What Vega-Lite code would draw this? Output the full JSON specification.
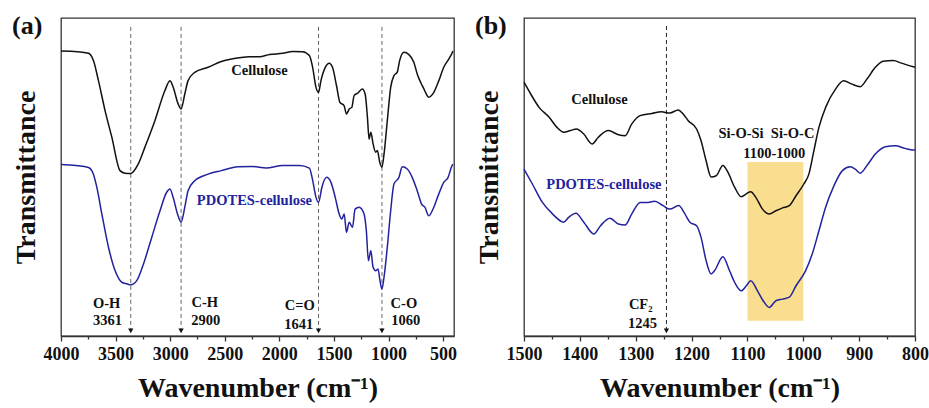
{
  "$schema": "https://vega.github.io/schema/vega-lite/v6.json",
  "background": "white",
  "padding": {"left": 11, "top": 12, "right": 0, "bottom": 0},
  "spacing": 16,
  "config": {
    "font": "Liberation Serif",
    "view": {"stroke": "#333333", "strokeWidth": 1.3},
    "axis": {
      "labelFont": "Liberation Serif", "labelFontWeight": "bold", "labelFontSize": 18, "labelColor": "#111111",
      "titleFont": "Liberation Serif", "titleFontWeight": "bold", "titleFontSize": 28, "titleColor": "#111111",
      "grid": false, "domainColor": "#333333", "domainWidth": 1.3, "tickColor": "#333333", "tickWidth": 1.3
    },
    "title": {"font": "Liberation Serif", "fontWeight": "bold", "fontSize": 26, "color": "#111111", "anchor": "start", "frame": "bounds", "offset": -21},
    "text": {"font": "Liberation Serif", "fontWeight": "bold", "fontSize": 14.5}
  },
  "datasets": {
    "specA": [
      {"wn": 4000, "t": 89.6, "s": "Cellulose"}, {"wn": 3850, "t": 89.4, "s": "Cellulose"}, {"wn": 3748, "t": 88.9, "s": "Cellulose"},
      {"wn": 3703, "t": 86.6, "s": "Cellulose"}, {"wn": 3657, "t": 80.3, "s": "Cellulose"}, {"wn": 3596, "t": 70.8, "s": "Cellulose"},
      {"wn": 3535, "t": 62.6, "s": "Cellulose"}, {"wn": 3459, "t": 52.0, "s": "Cellulose"}, {"wn": 3414, "t": 51.2, "s": "Cellulose"},
      {"wn": 3361, "t": 51.1, "s": "Cellulose"}, {"wn": 3292, "t": 54.1, "s": "Cellulose"}, {"wn": 3231, "t": 59.4, "s": "Cellulose"},
      {"wn": 3140, "t": 67.7, "s": "Cellulose"}, {"wn": 3049, "t": 77.1, "s": "Cellulose"}, {"wn": 3002, "t": 80.3, "s": "Cellulose"},
      {"wn": 2973, "t": 78.3, "s": "Cellulose"}, {"wn": 2927, "t": 73.0, "s": "Cellulose"}, {"wn": 2900, "t": 71.4, "s": "Cellulose"},
      {"wn": 2866, "t": 76.1, "s": "Cellulose"}, {"wn": 2836, "t": 80.3, "s": "Cellulose"}, {"wn": 2775, "t": 82.9, "s": "Cellulose"},
      {"wn": 2653, "t": 84.5, "s": "Cellulose"}, {"wn": 2531, "t": 86.3, "s": "Cellulose"}, {"wn": 2349, "t": 87.6, "s": "Cellulose"},
      {"wn": 2273, "t": 87.8, "s": "Cellulose"}, {"wn": 2182, "t": 87.8, "s": "Cellulose"}, {"wn": 2090, "t": 88.5, "s": "Cellulose"},
      {"wn": 1969, "t": 88.9, "s": "Cellulose"}, {"wn": 1878, "t": 89.5, "s": "Cellulose"}, {"wn": 1786, "t": 89.4, "s": "Cellulose"},
      {"wn": 1725, "t": 88.2, "s": "Cellulose"}, {"wn": 1695, "t": 84.5, "s": "Cellulose"}, {"wn": 1664, "t": 78.2, "s": "Cellulose"},
      {"wn": 1641, "t": 76.6, "s": "Cellulose"}, {"wn": 1619, "t": 80.3, "s": "Cellulose"}, {"wn": 1579, "t": 84.5, "s": "Cellulose"},
      {"wn": 1543, "t": 85.8, "s": "Cellulose"}, {"wn": 1513, "t": 84.5, "s": "Cellulose"}, {"wn": 1476, "t": 78.7, "s": "Cellulose"},
      {"wn": 1445, "t": 73.5, "s": "Cellulose"}, {"wn": 1406, "t": 72.4, "s": "Cellulose"}, {"wn": 1385, "t": 69.8, "s": "Cellulose"},
      {"wn": 1360, "t": 71.4, "s": "Cellulose"}, {"wn": 1336, "t": 71.9, "s": "Cellulose"}, {"wn": 1315, "t": 75.6, "s": "Cellulose"},
      {"wn": 1285, "t": 76.3, "s": "Cellulose"}, {"wn": 1239, "t": 77.7, "s": "Cellulose"}, {"wn": 1214, "t": 76.1, "s": "Cellulose"},
      {"wn": 1193, "t": 68.8, "s": "Cellulose"}, {"wn": 1178, "t": 61.9, "s": "Cellulose"}, {"wn": 1162, "t": 64.1, "s": "Cellulose"},
      {"wn": 1141, "t": 60.4, "s": "Cellulose"}, {"wn": 1117, "t": 57.8, "s": "Cellulose"}, {"wn": 1102, "t": 58.3, "s": "Cellulose"},
      {"wn": 1080, "t": 54.6, "s": "Cellulose"}, {"wn": 1060, "t": 53.1, "s": "Cellulose"}, {"wn": 1041, "t": 57.2, "s": "Cellulose"},
      {"wn": 1011, "t": 67.7, "s": "Cellulose"}, {"wn": 980, "t": 78.2, "s": "Cellulose"}, {"wn": 950, "t": 81.9, "s": "Cellulose"},
      {"wn": 920, "t": 83.0, "s": "Cellulose"}, {"wn": 898, "t": 86.6, "s": "Cellulose"}, {"wn": 859, "t": 89.2, "s": "Cellulose"},
      {"wn": 813, "t": 88.5, "s": "Cellulose"}, {"wn": 768, "t": 86.1, "s": "Cellulose"}, {"wn": 737, "t": 82.4, "s": "Cellulose"},
      {"wn": 706, "t": 79.8, "s": "Cellulose"}, {"wn": 676, "t": 77.7, "s": "Cellulose"}, {"wn": 661, "t": 76.6, "s": "Cellulose"},
      {"wn": 631, "t": 75.1, "s": "Cellulose"}, {"wn": 585, "t": 76.6, "s": "Cellulose"}, {"wn": 539, "t": 80.3, "s": "Cellulose"},
      {"wn": 494, "t": 84.5, "s": "Cellulose"}, {"wn": 448, "t": 87.1, "s": "Cellulose"}, {"wn": 418, "t": 88.9, "s": "Cellulose"},
      {"wn": 410, "t": 89.6, "s": "Cellulose"},
      {"wn": 4000, "t": 53.9, "s": "PDOTES-cellulose"}, {"wn": 3865, "t": 53.6, "s": "PDOTES-cellulose"}, {"wn": 3748, "t": 53.0, "s": "PDOTES-cellulose"},
      {"wn": 3703, "t": 50.9, "s": "PDOTES-cellulose"}, {"wn": 3672, "t": 46.8, "s": "PDOTES-cellulose"}, {"wn": 3626, "t": 38.4, "s": "PDOTES-cellulose"},
      {"wn": 3565, "t": 27.9, "s": "PDOTES-cellulose"}, {"wn": 3504, "t": 20.5, "s": "PDOTES-cellulose"}, {"wn": 3443, "t": 16.9, "s": "PDOTES-cellulose"},
      {"wn": 3397, "t": 16.4, "s": "PDOTES-cellulose"}, {"wn": 3361, "t": 16.1, "s": "PDOTES-cellulose"}, {"wn": 3306, "t": 17.4, "s": "PDOTES-cellulose"},
      {"wn": 3245, "t": 22.6, "s": "PDOTES-cellulose"}, {"wn": 3169, "t": 31.0, "s": "PDOTES-cellulose"}, {"wn": 3093, "t": 39.4, "s": "PDOTES-cellulose"},
      {"wn": 3032, "t": 45.2, "s": "PDOTES-cellulose"}, {"wn": 3002, "t": 46.2, "s": "PDOTES-cellulose"}, {"wn": 2973, "t": 43.6, "s": "PDOTES-cellulose"},
      {"wn": 2933, "t": 38.4, "s": "PDOTES-cellulose"}, {"wn": 2900, "t": 35.8, "s": "PDOTES-cellulose"}, {"wn": 2866, "t": 40.5, "s": "PDOTES-cellulose"},
      {"wn": 2836, "t": 45.7, "s": "PDOTES-cellulose"}, {"wn": 2775, "t": 48.8, "s": "PDOTES-cellulose"}, {"wn": 2653, "t": 50.9, "s": "PDOTES-cellulose"},
      {"wn": 2531, "t": 52.0, "s": "PDOTES-cellulose"}, {"wn": 2379, "t": 53.2, "s": "PDOTES-cellulose"}, {"wn": 2250, "t": 53.3, "s": "PDOTES-cellulose"},
      {"wn": 2120, "t": 52.8, "s": "PDOTES-cellulose"}, {"wn": 1969, "t": 53.6, "s": "PDOTES-cellulose"}, {"wn": 1817, "t": 53.6, "s": "PDOTES-cellulose"},
      {"wn": 1725, "t": 52.8, "s": "PDOTES-cellulose"}, {"wn": 1695, "t": 49.0, "s": "PDOTES-cellulose"}, {"wn": 1664, "t": 43.6, "s": "PDOTES-cellulose"},
      {"wn": 1641, "t": 42.0, "s": "PDOTES-cellulose"}, {"wn": 1610, "t": 46.8, "s": "PDOTES-cellulose"}, {"wn": 1567, "t": 49.9, "s": "PDOTES-cellulose"},
      {"wn": 1527, "t": 48.3, "s": "PDOTES-cellulose"}, {"wn": 1488, "t": 43.6, "s": "PDOTES-cellulose"}, {"wn": 1452, "t": 38.4, "s": "PDOTES-cellulose"},
      {"wn": 1427, "t": 36.8, "s": "PDOTES-cellulose"}, {"wn": 1406, "t": 38.4, "s": "PDOTES-cellulose"}, {"wn": 1385, "t": 32.6, "s": "PDOTES-cellulose"},
      {"wn": 1360, "t": 35.8, "s": "PDOTES-cellulose"}, {"wn": 1330, "t": 34.2, "s": "PDOTES-cellulose"}, {"wn": 1306, "t": 39.9, "s": "PDOTES-cellulose"},
      {"wn": 1269, "t": 40.5, "s": "PDOTES-cellulose"}, {"wn": 1224, "t": 38.4, "s": "PDOTES-cellulose"}, {"wn": 1203, "t": 33.1, "s": "PDOTES-cellulose"},
      {"wn": 1184, "t": 23.7, "s": "PDOTES-cellulose"}, {"wn": 1162, "t": 26.8, "s": "PDOTES-cellulose"}, {"wn": 1141, "t": 21.6, "s": "PDOTES-cellulose"},
      {"wn": 1117, "t": 20.5, "s": "PDOTES-cellulose"}, {"wn": 1096, "t": 21.1, "s": "PDOTES-cellulose"}, {"wn": 1078, "t": 17.4, "s": "PDOTES-cellulose"},
      {"wn": 1060, "t": 14.8, "s": "PDOTES-cellulose"}, {"wn": 1041, "t": 18.5, "s": "PDOTES-cellulose"}, {"wn": 1011, "t": 27.9, "s": "PDOTES-cellulose"},
      {"wn": 980, "t": 39.4, "s": "PDOTES-cellulose"}, {"wn": 950, "t": 47.8, "s": "PDOTES-cellulose"}, {"wn": 904, "t": 49.9, "s": "PDOTES-cellulose"},
      {"wn": 874, "t": 53.2, "s": "PDOTES-cellulose"}, {"wn": 828, "t": 52.5, "s": "PDOTES-cellulose"}, {"wn": 783, "t": 49.9, "s": "PDOTES-cellulose"},
      {"wn": 737, "t": 45.7, "s": "PDOTES-cellulose"}, {"wn": 697, "t": 41.5, "s": "PDOTES-cellulose"}, {"wn": 667, "t": 40.5, "s": "PDOTES-cellulose"},
      {"wn": 631, "t": 37.8, "s": "PDOTES-cellulose"}, {"wn": 585, "t": 40.5, "s": "PDOTES-cellulose"}, {"wn": 539, "t": 44.7, "s": "PDOTES-cellulose"},
      {"wn": 494, "t": 48.3, "s": "PDOTES-cellulose"}, {"wn": 454, "t": 49.9, "s": "PDOTES-cellulose"}, {"wn": 418, "t": 53.6, "s": "PDOTES-cellulose"},
      {"wn": 410, "t": 54.0, "s": "PDOTES-cellulose"}
    ],
    "specB": [
      {"wn": 1500, "t": 79.8, "s": "Cellulose"}, {"wn": 1488, "t": 76.1, "s": "Cellulose"}, {"wn": 1473, "t": 71.9, "s": "Cellulose"},
      {"wn": 1455, "t": 68.8, "s": "Cellulose"}, {"wn": 1441, "t": 65.6, "s": "Cellulose"}, {"wn": 1429, "t": 64.1, "s": "Cellulose"},
      {"wn": 1417, "t": 64.6, "s": "Cellulose"}, {"wn": 1406, "t": 65.1, "s": "Cellulose"}, {"wn": 1393, "t": 63.5, "s": "Cellulose"},
      {"wn": 1378, "t": 60.4, "s": "Cellulose"}, {"wn": 1367, "t": 62.5, "s": "Cellulose"}, {"wn": 1349, "t": 64.6, "s": "Cellulose"},
      {"wn": 1331, "t": 63.3, "s": "Cellulose"}, {"wn": 1319, "t": 63.0, "s": "Cellulose"}, {"wn": 1307, "t": 66.7, "s": "Cellulose"},
      {"wn": 1292, "t": 69.3, "s": "Cellulose"}, {"wn": 1271, "t": 70.0, "s": "Cellulose"}, {"wn": 1254, "t": 70.5, "s": "Cellulose"},
      {"wn": 1239, "t": 70.1, "s": "Cellulose"}, {"wn": 1224, "t": 71.1, "s": "Cellulose"}, {"wn": 1215, "t": 69.8, "s": "Cellulose"},
      {"wn": 1206, "t": 67.7, "s": "Cellulose"}, {"wn": 1191, "t": 65.1, "s": "Cellulose"}, {"wn": 1183, "t": 61.4, "s": "Cellulose"},
      {"wn": 1174, "t": 55.1, "s": "Cellulose"}, {"wn": 1165, "t": 50.0, "s": "Cellulose"}, {"wn": 1156, "t": 50.4, "s": "Cellulose"},
      {"wn": 1144, "t": 53.6, "s": "Cellulose"}, {"wn": 1135, "t": 51.5, "s": "Cellulose"}, {"wn": 1123, "t": 46.8, "s": "Cellulose"},
      {"wn": 1111, "t": 43.8, "s": "Cellulose"}, {"wn": 1102, "t": 44.7, "s": "Cellulose"}, {"wn": 1094, "t": 45.4, "s": "Cellulose"},
      {"wn": 1085, "t": 43.6, "s": "Cellulose"}, {"wn": 1073, "t": 39.9, "s": "Cellulose"}, {"wn": 1061, "t": 38.4, "s": "Cellulose"},
      {"wn": 1049, "t": 39.4, "s": "Cellulose"}, {"wn": 1037, "t": 40.3, "s": "Cellulose"}, {"wn": 1025, "t": 41.0, "s": "Cellulose"},
      {"wn": 1013, "t": 44.1, "s": "Cellulose"}, {"wn": 999, "t": 47.8, "s": "Cellulose"}, {"wn": 990, "t": 50.9, "s": "Cellulose"},
      {"wn": 981, "t": 58.3, "s": "Cellulose"}, {"wn": 972, "t": 65.6, "s": "Cellulose"}, {"wn": 960, "t": 71.9, "s": "Cellulose"},
      {"wn": 942, "t": 77.7, "s": "Cellulose"}, {"wn": 928, "t": 80.3, "s": "Cellulose"}, {"wn": 913, "t": 79.2, "s": "Cellulose"},
      {"wn": 898, "t": 78.4, "s": "Cellulose"}, {"wn": 886, "t": 80.8, "s": "Cellulose"}, {"wn": 871, "t": 84.5, "s": "Cellulose"},
      {"wn": 857, "t": 86.4, "s": "Cellulose"}, {"wn": 839, "t": 86.6, "s": "Cellulose"}, {"wn": 824, "t": 85.8, "s": "Cellulose"},
      {"wn": 803, "t": 84.7, "s": "Cellulose"}, {"wn": 800, "t": 84.6, "s": "Cellulose"},
      {"wn": 1500, "t": 52.5, "s": "PDOTES-cellulose"}, {"wn": 1485, "t": 47.8, "s": "PDOTES-cellulose"}, {"wn": 1467, "t": 42.0, "s": "PDOTES-cellulose"},
      {"wn": 1449, "t": 38.4, "s": "PDOTES-cellulose"}, {"wn": 1429, "t": 35.8, "s": "PDOTES-cellulose"}, {"wn": 1420, "t": 37.3, "s": "PDOTES-cellulose"},
      {"wn": 1407, "t": 38.6, "s": "PDOTES-cellulose"}, {"wn": 1393, "t": 35.8, "s": "PDOTES-cellulose"}, {"wn": 1375, "t": 32.1, "s": "PDOTES-cellulose"},
      {"wn": 1363, "t": 34.7, "s": "PDOTES-cellulose"}, {"wn": 1346, "t": 37.0, "s": "PDOTES-cellulose"}, {"wn": 1331, "t": 35.2, "s": "PDOTES-cellulose"},
      {"wn": 1319, "t": 34.9, "s": "PDOTES-cellulose"}, {"wn": 1307, "t": 38.4, "s": "PDOTES-cellulose"}, {"wn": 1292, "t": 42.0, "s": "PDOTES-cellulose"},
      {"wn": 1278, "t": 42.0, "s": "PDOTES-cellulose"}, {"wn": 1266, "t": 42.4, "s": "PDOTES-cellulose"}, {"wn": 1251, "t": 41.0, "s": "PDOTES-cellulose"},
      {"wn": 1239, "t": 39.9, "s": "PDOTES-cellulose"}, {"wn": 1223, "t": 41.0, "s": "PDOTES-cellulose"}, {"wn": 1212, "t": 38.4, "s": "PDOTES-cellulose"},
      {"wn": 1203, "t": 35.8, "s": "PDOTES-cellulose"}, {"wn": 1191, "t": 34.7, "s": "PDOTES-cellulose"}, {"wn": 1183, "t": 31.0, "s": "PDOTES-cellulose"},
      {"wn": 1174, "t": 23.7, "s": "PDOTES-cellulose"}, {"wn": 1165, "t": 19.5, "s": "PDOTES-cellulose"}, {"wn": 1159, "t": 20.5, "s": "PDOTES-cellulose"},
      {"wn": 1144, "t": 24.9, "s": "PDOTES-cellulose"}, {"wn": 1132, "t": 20.5, "s": "PDOTES-cellulose"}, {"wn": 1123, "t": 16.9, "s": "PDOTES-cellulose"},
      {"wn": 1111, "t": 14.2, "s": "PDOTES-cellulose"}, {"wn": 1102, "t": 15.8, "s": "PDOTES-cellulose"}, {"wn": 1094, "t": 17.4, "s": "PDOTES-cellulose"},
      {"wn": 1082, "t": 14.2, "s": "PDOTES-cellulose"}, {"wn": 1070, "t": 10.6, "s": "PDOTES-cellulose"}, {"wn": 1061, "t": 9.0, "s": "PDOTES-cellulose"},
      {"wn": 1049, "t": 11.1, "s": "PDOTES-cellulose"}, {"wn": 1037, "t": 11.6, "s": "PDOTES-cellulose"}, {"wn": 1025, "t": 12.2, "s": "PDOTES-cellulose"},
      {"wn": 1013, "t": 15.8, "s": "PDOTES-cellulose"}, {"wn": 996, "t": 20.5, "s": "PDOTES-cellulose"}, {"wn": 984, "t": 25.8, "s": "PDOTES-cellulose"},
      {"wn": 972, "t": 33.1, "s": "PDOTES-cellulose"}, {"wn": 960, "t": 40.5, "s": "PDOTES-cellulose"}, {"wn": 945, "t": 47.3, "s": "PDOTES-cellulose"},
      {"wn": 930, "t": 52.0, "s": "PDOTES-cellulose"}, {"wn": 916, "t": 53.2, "s": "PDOTES-cellulose"}, {"wn": 907, "t": 52.5, "s": "PDOTES-cellulose"},
      {"wn": 898, "t": 51.2, "s": "PDOTES-cellulose"}, {"wn": 886, "t": 53.6, "s": "PDOTES-cellulose"}, {"wn": 871, "t": 57.2, "s": "PDOTES-cellulose"},
      {"wn": 853, "t": 59.5, "s": "PDOTES-cellulose"}, {"wn": 835, "t": 59.8, "s": "PDOTES-cellulose"}, {"wn": 818, "t": 59.0, "s": "PDOTES-cellulose"},
      {"wn": 803, "t": 58.5, "s": "PDOTES-cellulose"}, {"wn": 800, "t": 58.5, "s": "PDOTES-cellulose"}
    ],
    "guidesA": [
      {"wn": 3361, "t": 97.2, "t2": 1.6},
      {"wn": 2900, "t": 97.2, "t2": 1.6},
      {"wn": 1641, "t": 97.2, "t2": 1.6},
      {"wn": 1060, "t": 97.2, "t2": 1.6}
    ],
    "guidesB": [
      {"wn": 1245, "t": 97.5, "t2": 1.6}
    ],
    "band": [
      {"wn": 1100, "wn2": 1000, "t": 54.7, "t2": 4.8}
    ],
    "notesA": [
      {"wn": 2182, "t": 83.3, "label": "Cellulose", "s": "Cellulose"},
      {"wn": 2228, "t": 42.3, "label": "PDOTES-cellulose", "s": "PDOTES-cellulose"},
      {"wn": 3582, "t": 10.1, "label": "O-H", "s": "note"},
      {"wn": 3573, "t": 4.7, "label": "3361", "s": "note"},
      {"wn": 2683, "t": 10.5, "label": "C-H", "s": "note"},
      {"wn": 2674, "t": 4.7, "label": "2900", "s": "note"},
      {"wn": 1812, "t": 9.4, "label": "C=O", "s": "note"},
      {"wn": 1821, "t": 3.6, "label": "1641", "s": "note"},
      {"wn": 859, "t": 10.1, "label": "C-O", "s": "note"},
      {"wn": 843, "t": 4.8, "label": "1060", "s": "note"}
    ],
    "notesB": [
      {"wn": 1365, "t": 74.2, "label": "Cellulose", "s": "Cellulose"},
      {"wn": 1357, "t": 47.5, "label": "PDOTES-cellulose", "s": "PDOTES-cellulose"},
      {"wn": 1066, "t": 63.4, "label": "Si-O-Si\u00a0\u00a0Si-O-C", "s": "note"},
      {"wn": 1052, "t": 57.1, "label": "1100-1000", "s": "note"},
      {"wn": 1291, "t": 9.7, "label": "CF₂", "s": "note"},
      {"wn": 1288, "t": 3.8, "label": "1245", "s": "note"}
    ]
  },
  "hconcat": [
    {
      "width": 393,
      "height": 318,
      "title": {"text": "(a)"},
      "encoding": {
        "x": {
          "field": "wn", "type": "quantitative",
          "scale": {"domain": [4000, 400], "nice": false, "zero": false},
          "axis": {
            "title": "Wavenumber (cm⁻¹)", "format": "d",
            "values": [4000, 3750, 3500, 3250, 3000, 2750, 2500, 2250, 2000, 1750, 1500, 1250, 1000, 750, 500],
            "labelExpr": "datum.value % 500 === 0 ? datum.label : ''",
            "tickSize": {"condition": {"test": "datum.value % 500 !== 0", "value": 3}, "value": 5},
            "labelFlush": false, "labelOverlap": false, "labelPadding": 4, "titlePadding": 11
          }
        },
        "y": {
          "field": "t", "type": "quantitative",
          "scale": {"domain": [0, 100], "nice": false, "zero": false},
          "axis": {"title": "Transmittance", "labels": false, "ticks": false, "domain": false, "titlePadding": 21}
        }
      },
      "layer": [
        {
          "data": {"name": "guidesA"},
          "mark": {"type": "rule", "strokeDash": [4, 3], "color": "#666666", "strokeWidth": 1},
          "encoding": {"y2": {"field": "t2"}}
        },
        {
          "data": {"name": "guidesA"},
          "mark": {"type": "point", "shape": "triangle-down", "filled": true, "size": 28, "color": "#111111", "opacity": 1},
          "encoding": {"y": {"field": "t2", "type": "quantitative"}}
        },
        {
          "data": {"name": "specA"},
          "mark": {"type": "line", "strokeWidth": 1.5, "interpolate": "monotone"},
          "encoding": {
            "color": {"field": "s", "type": "nominal", "legend": null,
              "scale": {"domain": ["Cellulose", "PDOTES-cellulose", "note"], "range": ["#111111", "#22229f", "#111111"]}}
          }
        },
        {
          "data": {"name": "notesA"},
          "mark": {"type": "text"},
          "encoding": {
            "text": {"field": "label"},
            "color": {"field": "s", "type": "nominal", "legend": null,
              "scale": {"domain": ["Cellulose", "PDOTES-cellulose", "note"], "range": ["#111111", "#22229f", "#111111"]}}
          }
        }
      ]
    },
    {
      "width": 391,
      "height": 318,
      "title": {"text": "(b)"},
      "encoding": {
        "x": {
          "field": "wn", "type": "quantitative",
          "scale": {"domain": [1500, 800], "nice": false, "zero": false},
          "axis": {
            "title": "Wavenumber (cm⁻¹)", "format": "d",
            "values": [1500, 1450, 1400, 1350, 1300, 1250, 1200, 1150, 1100, 1050, 1000, 950, 900, 850, 800],
            "labelExpr": "datum.value % 100 === 0 ? datum.label : ''",
            "tickSize": {"condition": {"test": "datum.value % 100 !== 0", "value": 3}, "value": 5},
            "labelFlush": false, "labelOverlap": false, "labelPadding": 4, "titlePadding": 11
          }
        },
        "y": {
          "field": "t", "type": "quantitative",
          "scale": {"domain": [0, 100], "nice": false, "zero": false},
          "axis": {"title": "Transmittance", "labels": false, "ticks": false, "domain": false, "titlePadding": 21}
        }
      },
      "layer": [
        {
          "data": {"name": "band"},
          "mark": {"type": "rect", "color": "#F9DE8F", "opacity": 1},
          "encoding": {"x2": {"field": "wn2"}, "y2": {"field": "t2"}}
        },
        {
          "data": {"name": "guidesB"},
          "mark": {"type": "rule", "strokeDash": [4, 3], "color": "#222222", "strokeWidth": 1},
          "encoding": {"y2": {"field": "t2"}}
        },
        {
          "data": {"name": "guidesB"},
          "mark": {"type": "point", "shape": "triangle-down", "filled": true, "size": 28, "color": "#111111", "opacity": 1},
          "encoding": {"y": {"field": "t2", "type": "quantitative"}}
        },
        {
          "data": {"name": "specB"},
          "mark": {"type": "line", "strokeWidth": 1.5, "interpolate": "monotone"},
          "encoding": {
            "color": {"field": "s", "type": "nominal", "legend": null,
              "scale": {"domain": ["Cellulose", "PDOTES-cellulose", "note"], "range": ["#111111", "#22229f", "#111111"]}}
          }
        },
        {
          "data": {"name": "notesB"},
          "mark": {"type": "text"},
          "encoding": {
            "text": {"field": "label"},
            "color": {"field": "s", "type": "nominal", "legend": null,
              "scale": {"domain": ["Cellulose", "PDOTES-cellulose", "note"], "range": ["#111111", "#22229f", "#111111"]}}
          }
        }
      ]
    }
  ]
}
